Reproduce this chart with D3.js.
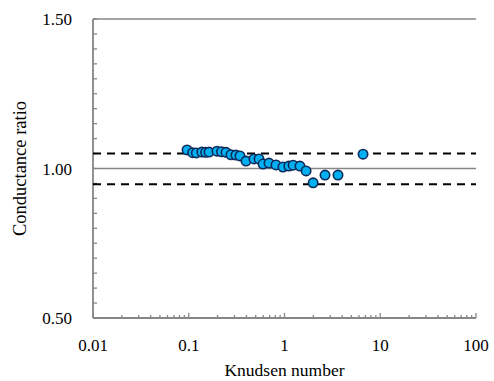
<!DOCTYPE html>
<html>
<head>
<meta charset="utf-8">
<script src="https://cdn.jsdelivr.net/npm/d3@7"></script>
<style>
  body { margin: 0; background: #fff; }
  text { font-family: "Liberation Serif", "Times New Roman", serif; fill: #000; }
</style>
</head>
<body>
<svg id="chart" width="494" height="381"></svg>
<script>
// knudsen number vs conductance ratio
var knudsen = [0.096, 0.11, 0.12, 0.137, 0.15, 0.163, 0.197, 0.22, 0.245, 0.276, 0.311, 0.343,
               0.396, 0.48, 0.542, 0.596, 0.689, 0.815, 0.964, 1.11, 1.23, 1.45, 1.68, 1.99,
               2.65, 3.62, 6.61];
var ratio   = [1.062, 1.053, 1.052, 1.055, 1.054, 1.055, 1.058, 1.056, 1.054, 1.046, 1.045, 1.042,
               1.025, 1.032, 1.032, 1.015, 1.018, 1.012, 1.005, 1.008, 1.011, 1.008, 0.992, 0.952,
               0.978, 0.978, 1.048];
var xTicks = [0.01, 0.1, 1, 10, 100];
var xTickLabels = ["0.01", "0.1", "1", "10", "100"];
var yTicks = [0.5, 1.0, 1.5];
var yTickLabels = ["0.50", "1.00", "1.50"];
var bandLines = [1.05, 0.947];

var svg = d3.select('#chart');
var plotLeft = 93, plotRight = 476, plotTop = 19, plotBottom = 318;
var axisGray = '#868686';

var x = d3.scaleLog().domain([0.01, 100]).range([plotLeft, plotRight]);
var y = d3.scaleLinear().domain([0.5, 1.5]).range([plotBottom, plotTop]);

// gridlines at 1.0 and 1.5
svg.selectAll('.grid').data(yTicks.slice(1)).enter()
    .append('line')
    .attr('x1', plotLeft).attr('x2', plotRight)
    .attr('y1', function(d){ return y(d); }).attr('y2', function(d){ return y(d); })
    .attr('stroke', axisGray).attr('stroke-width', 1.5);

// minor ticks on x (2..9 in each decade) and majors
var xMinor = [];
for (var dec = 0.01; dec < 100; dec *= 10) {
    for (var m = 2; m <= 9; m++) xMinor.push(dec * m);
}
svg.selectAll('.xminor').data(xMinor).enter()
    .append('line')
    .attr('x1', function(d){ return x(d); }).attr('x2', function(d){ return x(d); })
    .attr('y1', plotBottom).attr('y2', plotBottom - 3)
    .attr('stroke', axisGray).attr('stroke-width', 1.3);
svg.selectAll('.xmajor').data(xTicks).enter()
    .append('line')
    .attr('x1', function(d){ return x(d); }).attr('x2', function(d){ return x(d); })
    .attr('y1', plotBottom).attr('y2', plotBottom - 5)
    .attr('stroke', axisGray).attr('stroke-width', 1.3);

// minor ticks on y every 0.05
var yMinor = d3.range(0, 21).map(function(i){ return 0.5 + i * 0.05; });
svg.selectAll('.yminor').data(yMinor).enter()
    .append('line')
    .attr('x1', plotLeft).attr('x2', plotLeft + 4)
    .attr('y1', function(d){ return y(d); }).attr('y2', function(d){ return y(d); })
    .attr('stroke', axisGray).attr('stroke-width', 1.3);

// axes lines
svg.append('line').attr('x1', plotLeft).attr('x2', plotLeft).attr('y1', plotTop).attr('y2', plotBottom)
    .attr('stroke', axisGray).attr('stroke-width', 1.8);
svg.append('line').attr('x1', plotLeft).attr('x2', plotRight).attr('y1', plotBottom).attr('y2', plotBottom)
    .attr('stroke', axisGray).attr('stroke-width', 1.8);

// dashed bands
svg.selectAll('.band').data(bandLines).enter()
    .append('line')
    .attr('x1', plotLeft).attr('x2', plotRight)
    .attr('y1', function(d){ return y(d); }).attr('y2', function(d){ return y(d); })
    .attr('stroke', '#000').attr('stroke-width', 2)
    .attr('stroke-dasharray', '8,6');

// points
svg.selectAll('.pt').data(knudsen).enter()
    .append('circle')
    .attr('cx', function(d){ return x(d); })
    .attr('cy', function(d, i){ return y(ratio[i]); })
    .attr('r', 4.7)
    .attr('fill', '#00B0F0')
    .attr('stroke', '#0E2A5A')
    .attr('stroke-width', 1.6);

// tick labels
svg.selectAll('.xlab').data(xTicks).enter()
    .append('text')
    .attr('x', function(d){ return x(d); })
    .attr('y', 351)
    .attr('text-anchor', 'middle')
    .style('font-size', '17px')
    .text(function(d, i){ return xTickLabels[i]; });

svg.selectAll('.ylab').data(yTicks).enter()
    .append('text')
    .attr('x', 72)
    .attr('y', function(d){ return y(d) + 6; })
    .attr('text-anchor', 'end')
    .style('font-size', '17px')
    .text(function(d, i){ return yTickLabels[i]; });

// axis titles
svg.append('text')
    .attr('x', (plotLeft + plotRight) / 2).attr('y', 376)
    .attr('text-anchor', 'middle')
    .style('font-size', '17.5px')
    .text('Knudsen number');
svg.append('text')
    .attr('transform', 'translate(26,' + ((plotTop + plotBottom) / 2) + ') rotate(-90)')
    .attr('text-anchor', 'middle')
    .style('font-size', '18.5px')
    .text('Conductance ratio');
</script>
</body>
</html>
